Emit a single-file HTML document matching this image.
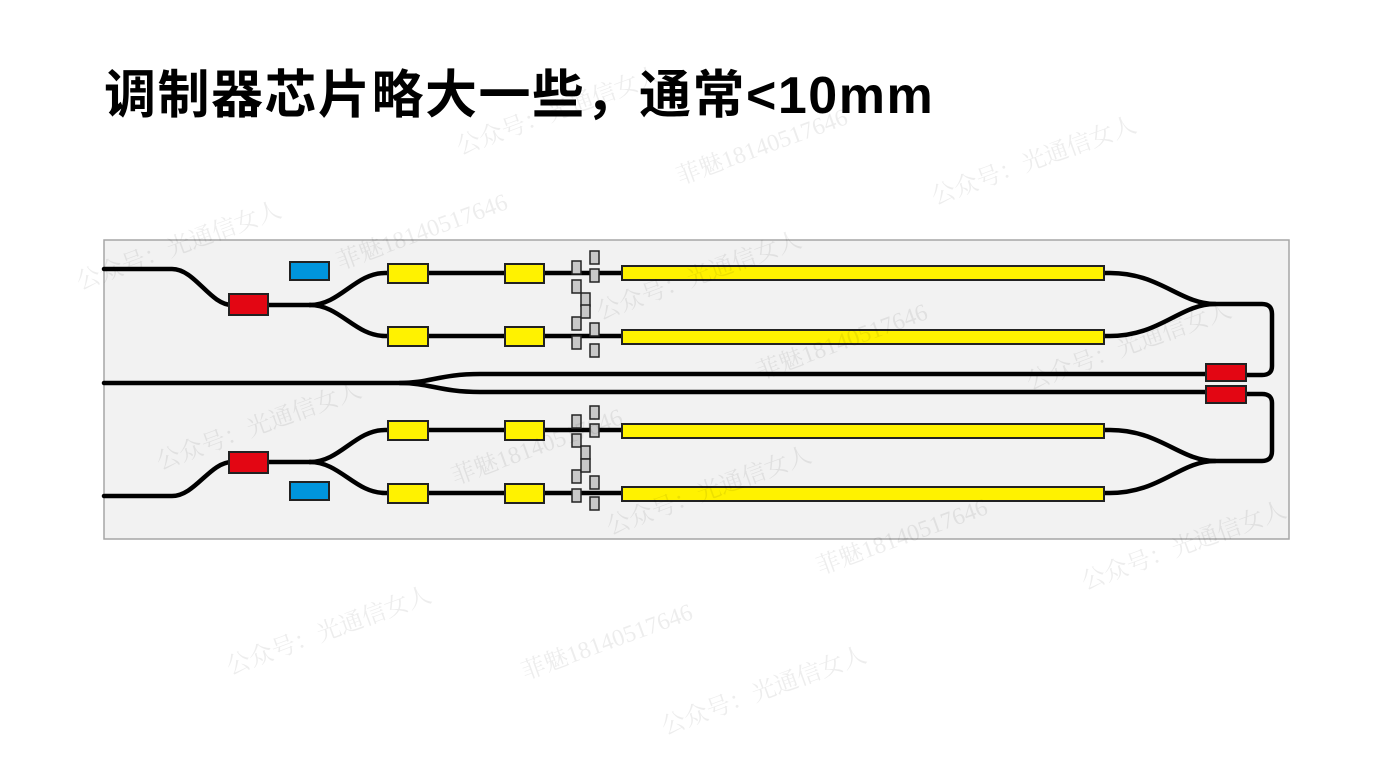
<!DOCTYPE html>
<html><head><meta charset="utf-8"><style>
html,body{margin:0;padding:0;background:#fff;width:1384px;height:779px;overflow:hidden}
.t{position:absolute;left:104px;top:64px;font:bold 52px "Liberation Sans","Noto Sans CJK SC",sans-serif;color:#000;letter-spacing:1.5px;white-space:nowrap;line-height:64px}
svg{position:absolute;left:0;top:0}
</style></head><body>
<svg width="1384" height="779" viewBox="0 0 1384 779">
<rect x="104" y="240" width="1185" height="299" fill="#f2f2f2" stroke="#a6a6a6" stroke-width="1.5"/>
<g fill="none" stroke="#000" stroke-width="4.5" stroke-linecap="round">
<path d="M104 269 H172 C195 269 210 305 232 305 H310"/>
<path d="M310 305 C340 305 355 273 385 273 H1110 C1160 273 1180 304 1215 304"/>
<path d="M310 305 C340 305 355 336 385 336 H1110 C1160 336 1180 304 1215 304 H1262 Q1272 304 1272 314 V366 Q1272 375 1262 375 H1246"/>
<path d="M104 496 H172 C195 496 210 462 232 462 H310"/>
<path d="M310 462 C340 462 355 430 385 430 H1110 C1160 430 1180 461 1215 461"/>
<path d="M310 462 C340 462 355 493 385 493 H1110 C1160 493 1180 461 1215 461 H1262 Q1272 461 1272 451 V403 Q1272 394 1262 394 H1246"/>
<path d="M104 383 H400 C430 383 440 374 480 374 H1206"/>
<path d="M400 383 C430 383 440 392 480 392 H1206"/>
</g>
<g stroke="#222" stroke-width="2">
<rect x="229" y="294" width="39" height="21" fill="#e30613"/>
<rect x="229" y="452" width="39" height="21" fill="#e30613"/>
<rect x="1206" y="364" width="40" height="17" fill="#e30613"/>
<rect x="1206" y="386" width="40" height="17" fill="#e30613"/>
<rect x="290" y="262" width="39" height="18" fill="#0095dd"/>
<rect x="290" y="482" width="39" height="18" fill="#0095dd"/>
<g fill="#fff200">
<rect x="388" y="264" width="40" height="19"/><rect x="505" y="264" width="39" height="19"/>
<rect x="388" y="327" width="40" height="19"/><rect x="505" y="327" width="39" height="19"/>
<rect x="388" y="421" width="40" height="19"/><rect x="505" y="421" width="39" height="19"/>
<rect x="388" y="484" width="40" height="19"/><rect x="505" y="484" width="39" height="19"/>
<rect x="622" y="266" width="482" height="14"/><rect x="622" y="330" width="482" height="14"/>
<rect x="622" y="424" width="482" height="14"/><rect x="622" y="487" width="482" height="14"/>
</g>
<g fill="#c8c8c8" stroke-width="1.5">
<rect x="572" y="261" width="9" height="13"/><rect x="572" y="280" width="9" height="13"/><rect x="581" y="293" width="9" height="13"/><rect x="572" y="317" width="9" height="13"/><rect x="572" y="336" width="9" height="13"/>
<rect x="590" y="251" width="9" height="13"/><rect x="590" y="269" width="9" height="13"/><rect x="581" y="305" width="9" height="13"/><rect x="590" y="323" width="9" height="13"/><rect x="590" y="344" width="9" height="13"/>
<rect x="572" y="415" width="9" height="13"/><rect x="572" y="434" width="9" height="13"/><rect x="581" y="446" width="9" height="13"/><rect x="572" y="470" width="9" height="13"/><rect x="572" y="489" width="9" height="13"/>
<rect x="590" y="406" width="9" height="13"/><rect x="590" y="424" width="9" height="13"/><rect x="581" y="459" width="9" height="13"/><rect x="590" y="476" width="9" height="13"/><rect x="590" y="497" width="9" height="13"/>
</g>
</g>
<g fill="#000" fill-opacity="0.07" font-family="Liberation Serif,Noto Serif CJK SC,serif" font-size="24">
<text transform="translate(460,155) rotate(-20)">公众号：光通信女人</text>
<text transform="translate(680,185) rotate(-20)">菲魅18140517646</text>
<text transform="translate(935,205) rotate(-20)">公众号：光通信女人</text>
<text transform="translate(80,290) rotate(-20)">公众号：光通信女人</text>
<text transform="translate(340,270) rotate(-20)">菲魅18140517646</text>
<text transform="translate(600,320) rotate(-20)">公众号：光通信女人</text>
<text transform="translate(760,380) rotate(-20)">菲魅18140517646</text>
<text transform="translate(1030,390) rotate(-20)">公众号：光通信女人</text>
<text transform="translate(160,470) rotate(-20)">公众号：光通信女人</text>
<text transform="translate(455,485) rotate(-20)">菲魅18140517646</text>
<text transform="translate(610,535) rotate(-20)">公众号：光通信女人</text>
<text transform="translate(820,575) rotate(-20)">菲魅18140517646</text>
<text transform="translate(1085,590) rotate(-20)">公众号：光通信女人</text>
<text transform="translate(230,675) rotate(-20)">公众号：光通信女人</text>
<text transform="translate(525,680) rotate(-20)">菲魅18140517646</text>
<text transform="translate(665,735) rotate(-20)">公众号：光通信女人</text>
</g>
</svg>
<div class="t">调制器芯片略大一些，通常&lt;10mm</div>
</body></html>
